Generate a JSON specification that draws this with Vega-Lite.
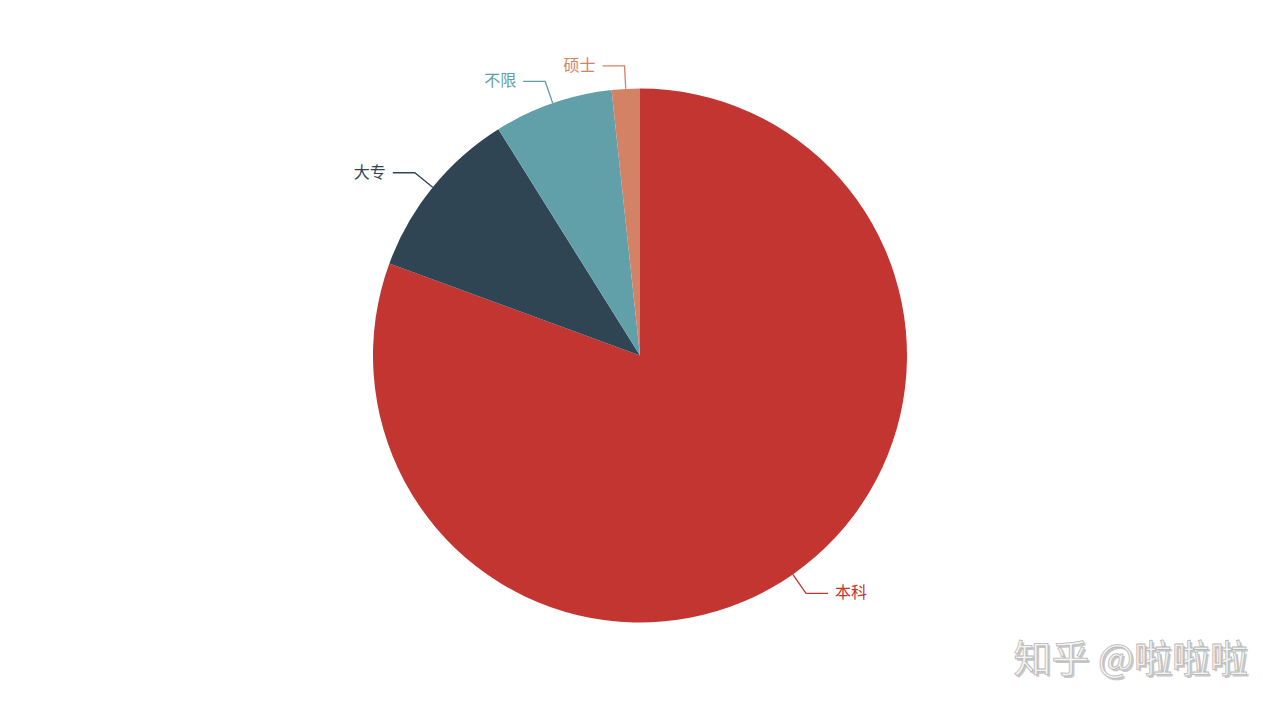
{
  "$schema": "https://vega.github.io/schema/vega-lite/v6.json",
  "width": 1280,
  "height": 711,
  "autosize": {"type": "fit", "contains": "padding"},
  "padding": 0,
  "background": "white",
  "config": {"view": {"stroke": null}, "font": "Noto Sans CJK SC"},
  "data": {"values": [
    {"edu": "本科", "pct": 80.6},
    {"edu": "大专", "pct": 10.5},
    {"edu": "不限", "pct": 7.2},
    {"edu": "硕士", "pct": 1.7}
  ]},
  "transform": [
    {"window": [{"op": "sum", "field": "pct", "as": "cum"}], "frame": [null, 0]},
    {"joinaggregate": [{"op": "sum", "field": "pct", "as": "total"}]},
    {"calculate": "(datum.cum - datum.pct) / datum.total", "as": "f0"},
    {"calculate": "datum.cum / datum.total", "as": "f1"},
    {"calculate": "PI * (datum.f0 + datum.f1)", "as": "mid"},
    {"calculate": "sin(datum.mid) < 0 ? -1 : 1", "as": "side"}
  ],
  "layer": [
    {
      "mark": {"type": "arc", "outerRadius": 267, "strokeWidth": 0},
      "encoding": {
        "theta": {"field": "f0", "type": "quantitative", "stack": null, "scale": {"domain": [0, 1], "range": [0, 6.283185307179586]}},
        "theta2": {"field": "f1"},
        "color": {"field": "edu", "type": "nominal", "scale": {"domain": ["本科", "大专", "不限", "硕士"], "range": ["#c23531", "#2f4554", "#61a0a8", "#d48265"]}, "legend": null}
      }
    },
    {
      "transform": [
        {"calculate": "[1, 2, 3]", "as": "pt"},
        {"flatten": ["pt"]},
        {"calculate": "datum.pt == 1 ? 267 : 290", "as": "rr"},
        {"calculate": "datum.rr * sin(datum.mid) + (datum.pt == 3 ? datum.side * 22 : 0)", "as": "lx"},
        {"calculate": "datum.rr * cos(datum.mid)", "as": "ly"}
      ],
      "mark": {"type": "line", "strokeWidth": 1.3, "interpolate": "linear"},
      "encoding": {
        "x": {"field": "lx", "type": "quantitative", "scale": {"domain": [-640, 640], "nice": false, "zero": false}, "axis": null},
        "y": {"field": "ly", "type": "quantitative", "scale": {"domain": [-355.5, 355.5], "nice": false, "zero": false}, "axis": null},
        "detail": {"field": "edu"},
        "order": {"field": "pt", "type": "quantitative"},
        "color": {"field": "edu", "type": "nominal", "legend": null}
      }
    },
    {
      "transform": [
        {"filter": "datum.side < 0"},
        {"calculate": "290 * sin(datum.mid) - 29", "as": "tx"},
        {"calculate": "290 * cos(datum.mid)", "as": "ty"}
      ],
      "mark": {"type": "text", "align": "right", "baseline": "middle", "fontSize": 16},
      "encoding": {
        "x": {"field": "tx", "type": "quantitative", "scale": {"domain": [-640, 640], "nice": false, "zero": false}, "axis": null},
        "y": {"field": "ty", "type": "quantitative", "scale": {"domain": [-355.5, 355.5], "nice": false, "zero": false}, "axis": null},
        "text": {"field": "edu"},
        "color": {"field": "edu", "type": "nominal", "legend": null}
      }
    },
    {
      "transform": [
        {"filter": "datum.side > 0"},
        {"calculate": "290 * sin(datum.mid) + 29", "as": "tx"},
        {"calculate": "290 * cos(datum.mid)", "as": "ty"}
      ],
      "mark": {"type": "text", "align": "left", "baseline": "middle", "fontSize": 16},
      "encoding": {
        "x": {"field": "tx", "type": "quantitative", "scale": {"domain": [-640, 640], "nice": false, "zero": false}, "axis": null},
        "y": {"field": "ty", "type": "quantitative", "scale": {"domain": [-355.5, 355.5], "nice": false, "zero": false}, "axis": null},
        "text": {"field": "edu"},
        "color": {"field": "edu", "type": "nominal", "legend": null}
      }
    },
    {
      "data": {"values": [{"wm": "知乎 @啦啦啦"}]},
      "mark": {"type": "text", "align": "right", "baseline": "middle", "fontSize": 38, "fill": "#c8c8c8", "dx": -30, "dy": -48},
      "encoding": {
        "x": {"value": "width"},
        "y": {"value": "height"},
        "text": {"field": "wm"}
      }
    },
    {
      "data": {"values": [{"wm": "知乎 @啦啦啦"}]},
      "mark": {"type": "text", "align": "right", "baseline": "middle", "fontSize": 38, "fill": "#f4f4f4", "stroke": "#b8b8b8", "strokeWidth": 0.8, "dx": -32, "dy": -50},
      "encoding": {
        "x": {"value": "width"},
        "y": {"value": "height"},
        "text": {"field": "wm"}
      }
    }
  ]
}
